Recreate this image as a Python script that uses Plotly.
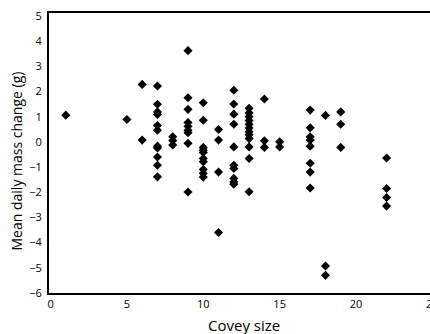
import plotly.graph_objects as go

# Covey size groups and mean daily mass change (g)
groups = {
    1: [1.06],
    5: [0.89],
    6: [2.28, 0.07],
    7: [2.22, 1.49, 1.19, 1.09, 0.65, 0.46, -0.17, -0.24, -0.6, -0.93, -1.39],
    8: [0.2, 0.05, -0.12],
    9: [3.62, 1.75, 1.29, 0.77, 0.62, 0.46, 0.36, -0.06, -1.99],
    10: [1.55, 0.86, -0.22, -0.33, -0.42, -0.66, -0.79, -1.1, -1.25, -1.4],
    11: [0.49, 0.07, -1.2, -3.6],
    12: [2.05, 1.5, 1.1, 0.7, -0.2, -0.93, -1.06, -1.45, -1.59, -1.68],
    13: [1.33, 1.15, 1.0, 0.85, 0.7, 0.55, 0.4, 0.28, 0.13, -0.2, -0.66, -1.98],
    14: [1.7, 0.04, -0.22],
    15: [0.0, -0.2],
    17: [1.26, 0.56, 0.2, 0.07, -0.17, -0.85, -1.2, -1.83],
    18: [1.05, -4.93, -5.3],
    19: [1.19, 0.7, -0.22],
    22: [-0.64, -1.85, -2.21, -2.55],
}
covey_size = [k for k, vals in groups.items() for _ in vals]
mass_change = [v for vals in groups.values() for v in vals]

x_ticks = [0, 5, 10, 15, 20, 25]
y_ticks = [-6, -5, -4, -3, -2, -1, 0, 1, 2, 3, 4, 5]
x_title = "Covey size"
y_title = "Mean daily mass change (g)"

FONT = "Open Sans, Noto Sans, sans-serif"
X_MIN, X_MAX = -0.1, 25.04

fig = go.Figure()
fig.add_trace(go.Scatter(
    x=covey_size, y=mass_change, mode="markers",
    marker=dict(symbol="diamond", size=7, color="black"),
    cliponaxis=False, showlegend=False,
))

# The figure is a little wider than the window so the right end (25) is cut off,
# as in the reference.
fig.update_layout(
    width=433, height=334,
    margin=dict(l=49, r=0, t=13, b=41),
    paper_bgcolor="white", plot_bgcolor="white",
    font=dict(family=FONT, color="black", size=11),
    xaxis=dict(
        range=[X_MIN, X_MAX], tickvals=x_ticks, showgrid=False, zeroline=False,
        showline=True, linecolor="black", linewidth=2, mirror=True,
        ticks="", ticklabelstandoff=0, automargin=False, ticklabeloverflow="allow",
    ),
    yaxis=dict(
        range=[-6, 5.115], tickvals=y_ticks, showgrid=False, zeroline=False,
        showline=True, linecolor="black", linewidth=2, mirror=False,
        ticks="", ticklabelstandoff=3, automargin=False,
    ),
    annotations=[
        dict(x=0.507, y=-0.114, xref="paper", yref="paper", text=x_title,
             showarrow=False, xanchor="center", yanchor="middle",
             font=dict(size=15, family=FONT)),
        dict(x=-0.085, y=0.471, xref="paper", yref="paper", text=y_title,
             showarrow=False, xanchor="center", yanchor="middle", textangle=-90,
             font=dict(size=14, family=FONT)),
    ],
)

fig.write_html(
    "out.html",
    config={"displayModeBar": False},
    post_script="document.body.style.margin='0px';document.body.style.overflow='hidden';",
)
